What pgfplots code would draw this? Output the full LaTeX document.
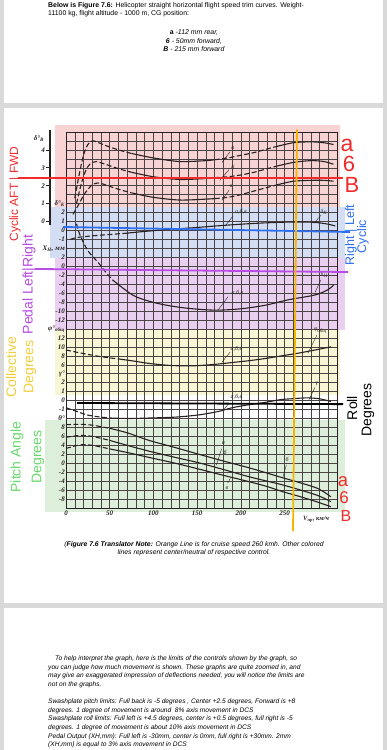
\documentclass[border=0pt]{standalone}
\usepackage{pgfplots}
\pgfplotsset{compat=1.18}
\usepackage{fontspec}
\setmainfont{Liberation Sans}
\newfontfamily\cf{Liberation Serif}
\definecolor{cred}{HTML}{F22A2A}
\definecolor{cblue}{HTML}{2E6FF0}
\definecolor{cpurp}{HTML}{B84DE6}
\definecolor{cyel}{HTML}{F2CF3A}
\definecolor{cgreen}{HTML}{66D96B}
\definecolor{corange}{HTML}{F5B400}
\definecolor{ink}{HTML}{2A2222}
\definecolor{gridc}{HTML}{4A4444}
\definecolor{bgpink}{HTML}{F7D3D3}
\definecolor{bgblue}{HTML}{D3DEF4}
\definecolor{bgpurp}{HTML}{E9D0F1}
\definecolor{bgyel}{HTML}{F8F6D4}
\definecolor{bggreen}{HTML}{DDEEDB}
\pgfplotsset{
  crv/.style={ink, line width=1.1pt, smooth, no markers},
  dsh/.style={dash pattern=on 5pt off 2.5pt},
  dB/.style={y filter/.expression={32+2*y}},
  dK/.style={y filter/.expression={31+y}},
  XH/.style={y filter/.expression={27+y/2}},
  phi/.style={y filter/.expression={(y+26)/2}},
  gam/.style={y filter/.expression={12+y}},
  th/.style={y filter/.expression={5+y/2}},
  band/.style={draw=none, on layer=axis background},
}
\tikzset{ann/.style={font=\cf\itshape\fontsize{6}{6}\selectfont, text=ink, inner sep=0.5pt},
  sc/.style={anchor=east, font=\cf\itshape\bfseries\fontsize{7}{7}\selectfont, text=ink, inner sep=0.5pt}}
\begin{document}
\begin{tikzpicture}[x=1pt,y=1pt]

% top text
\begin{scope}[font=\fontsize{6.9}{8}\selectfont]
\node[anchor=base west, inner sep=0] at (48,742.5) {\textbf{Below is Figure 7.6:} Helicopter straight horizontal flight speed trim curves. Weight-};
\node[anchor=base west, inner sep=0] at (48,734) {11100 kg, flight altitude - 1000 m, CG position:};
\node[anchor=base, inner sep=0] at (194,715) {\textbf{a} \textit{-112 mm rear,}};
\node[anchor=base, inner sep=0] at (194,706.5) {\textbf{\textit{6}} \textit{- 50mm forward,}};
\node[anchor=base, inner sep=0] at (194,698) {\textbf{\textit{B}} \textit{- 215 mm forward}};
\end{scope}

\begin{axis}[
  at={(66pt,242pt)}, anchor=south west,
  scale only axis, width=271pt, height=376pt,
  xmin=0, xmax=310, ymin=0, ymax=42,
  clip=false, set layers,
  axis line style={ink, line width=0.9pt},
  grid=major, major grid style={gridc, line width=0.45pt},
  xtick={0,10,...,310}, ytick={0,1,...,42},
  major tick length=0pt,
  xticklabels={0,,,,,50,,,,,100,,,,,150,,,,,200,,,,,250,,,,,,},
  yticklabels={,-8,-6,-4,-2,0,2,4,6,8,θ°,-1,0,1,2,γ°,6,8,10,12,{φ°\textsubscript{общ}},-12,-10,-8,-6,-4,-2,0,2,{X\textsubscript{H}, мм},-1,0,1,2,{δ°\textsubscript{K}},,,,,,,,},
  tick label style={font=\cf\itshape\bfseries\fontsize{7}{7}\selectfont, text=ink, inner sep=1pt},
  xticklabel style={yshift=-2pt},
]
% page background and white cards (bottom-most layer)
\addplot[band, fill=black!15] coordinates {(-75.6,-27.2) (367.3,-27.2) (367.3,56.9) (-75.6,56.9)} -- cycle;
\addplot[band, fill=white] coordinates {(-70.92,45.24) (362.62,45.24) (362.62,56.9) (-70.92,56.9)} -- cycle;
\addplot[band, fill=white] coordinates {(-70.92,-10.61) (362.62,-10.61) (362.62,44.68) (-70.92,44.68)} -- cycle;
\addplot[band, fill=white] coordinates {(-70.92,-27.2) (362.62,-27.2) (362.62,-11.17) (-70.92,-11.17)} -- cycle;
% colour bands behind the grid
\addplot[band, fill=bgpink] coordinates {(-12.6,33.6) (313,33.6) (313,42.8) (-12.6,42.8)} -- cycle;
\addplot[band, fill=bgblue] coordinates {(-18.3,27.9) (319,27.9) (319,33.6) (-18.3,33.6)} -- cycle;
\addplot[band, fill=bgpurp] coordinates {(-12.6,19.9) (319,19.9) (319,27.9) (-12.6,27.9)} -- cycle;
\addplot[band, fill=bgyel] coordinates {(-12.6,12.6) (313,12.6) (313,19.9) (-12.6,19.9)} -- cycle;
\addplot[band, fill=bggreen] coordinates {(-24,-0.45) (319,-0.45) (319,9.8) (-24,9.8)} -- cycle;

% delta_B (cyclic pitch) curves a, 6, B
\addplot[crv, dsh, dB] coordinates {(10,1.3) (15,2.6) (20,3.7) (25,4.3) (30,4.5) (35,4.45) (45,4.25) (60,4.0) (75,3.8)};
\addplot[crv, dB] coordinates {(75,3.8) (100,3.55) (130,3.35) (160,3.4) (170,3.45)};
\addplot[crv, dsh, dB] coordinates {(170,3.45) (185,3.55) (200,3.7) (215,3.85) (230,4.05) (240,4.18)};
\addplot[crv, dB] coordinates {(240,4.18) (260,4.4) (280,4.45) (295,4.4) (306,4.3)};

\addplot[crv, dsh, dB] coordinates {(12,1.0) (18,2.2) (24,3.0) (30,3.3) (35,3.35) (45,3.2) (60,2.95) (75,2.75)};
\addplot[crv, dB] coordinates {(75,2.75) (100,2.5) (130,2.35) (160,2.4) (170,2.45)};
\addplot[crv, dsh, dB] coordinates {(170,2.45) (185,2.5) (200,2.6) (215,2.75) (230,2.95) (240,3.08)};
\addplot[crv, dB] coordinates {(240,3.08) (260,3.3) (280,3.4) (295,3.35) (306,3.2)};

\addplot[crv, dsh, dB] coordinates {(8,0.4) (15,1.0) (22,1.6) (30,2.05) (37,2.15) (45,2.05) (60,1.8) (75,1.6)};
\addplot[crv, dB] coordinates {(75,1.6) (100,1.35) (130,1.2) (160,1.25) (170,1.28)};
\addplot[crv, dsh, dB] coordinates {(170,1.28) (185,1.35) (200,1.5) (215,1.7) (230,1.9) (240,2.03)};
\addplot[crv, dB] coordinates {(240,2.03) (260,2.25) (280,2.3) (295,2.3) (306,2.25)};

% delta_K (cyclic roll)
\addplot[crv, dsh, dK] coordinates {(5,-1.0) (12,-0.8) (30,-0.6) (50,-0.45) (70,-0.3)};
\addplot[crv, dK] coordinates {(70,-0.3) (85,-0.15) (115,0.1) (145,0.3) (171,0.5) (200,0.7) (228,0.85) (262,0.95) (285,0.9) (300,0.7) (308,0.5)};

% X_H pedal
\addplot[crv, dsh, XH] coordinates {(12,9.5) (16,7) (25,3.5) (37,0.8) (45,-1.2) (53,-3)};
\addplot[crv, XH] coordinates {(53,-3) (76,-6.4) (95,-7.8) (115,-8.7) (140,-9.4) (171,-9.8) (200,-9.5) (228,-8.7) (254,-7.5) (285,-6.4) (300,-5.2) (306,-4.2)};

% collective
\addplot[crv, dsh, phi] coordinates {(0,9.3) (20,8.5) (40,7.8) (60,7.3)};
\addplot[crv, phi] coordinates {(60,7.3) (75,6.9) (95,6.3) (115,5.9) (133,5.75) (150,5.8) (171,6.1) (190,6.5) (209,6.9) (228,7.4) (247,8.0) (266,8.6) (285,9.3) (303,10.0)};

% roll
\addplot[crv, dsh, gam] coordinates {(0,-0.8) (12,-1.2) (24,-1.6) (40,-1.85) (55,-1.97)};
\addplot[crv, gam] coordinates {(55,-1.97) (75,-2.0) (95,-1.95) (125,-1.85) (152,-1.6) (175,-1.2) (190,-0.8) (210,-0.45) (228,-0.2) (245,0.1) (258,0.2) (275,0.3) (290,0.2) (303,-0.1)};

% pitch a, 6, B
\addplot[crv, dsh, th] coordinates {(0,8.6) (15,8.7) (30,8.5) (50,7.8)};
\addplot[crv, th] coordinates {(50,7.8) (70,6.8) (95,5.1) (125,3.5) (152,2.0) (180,0.5) (209,-1.0) (230,-2.2) (247,-3.2) (265,-4.2) (285,-5.4) (295,-6.4) (303,-7.5)};
\addplot[crv, dsh, th] coordinates {(0,5.8) (16,6.2) (30,6.0) (50,5.1)};
\addplot[crv, th] coordinates {(50,5.1) (70,4.0) (95,2.7) (125,1.3) (152,0.1) (180,-1.4) (209,-3.0) (230,-4.0) (247,-4.8) (265,-5.8) (285,-7.0) (295,-7.8) (303,-8.6)};
\addplot[crv, dsh, th] coordinates {(0,3.3) (16,4.1) (30,4.0) (50,3.2)};
\addplot[crv, th] coordinates {(50,3.2) (70,2.4) (95,1.3) (125,0.0) (152,-1.3) (180,-2.7) (209,-4.1) (230,-5.2) (247,-6.3) (265,-7.3) (285,-8.5) (303,-9.7)};

% delta_B scale at left
\addplot[ink, line width=1.6pt] coordinates {(-18.3,31.6) (-18.3,42.2)};
\addplot[ink, line width=0.7pt] coordinates {(-18.3,40) (-22.5,40)};
\addplot[ink, line width=0.7pt] coordinates {(-18.3,38) (-22.5,38)};
\addplot[ink, line width=0.7pt] coordinates {(-18.3,36) (-22.5,36)};
\addplot[ink, line width=0.7pt] coordinates {(-18.3,34) (-22.5,34)};
\addplot[ink, line width=0.7pt] coordinates {(-18.3,32) (-22.5,32)};
\node[sc] at (axis cs:-23.5,40) {4};
\node[sc] at (axis cs:-23.5,38) {3};
\node[sc] at (axis cs:-23.5,36) {2};
\node[sc] at (axis cs:-23.5,34) {1};
\node[sc] at (axis cs:-23.5,32) {0};
\node[font=\cf\itshape\bfseries\fontsize{7}{7}\selectfont, text=ink] at (axis cs:-31,41.3) {δ°\textsubscript{B}};

% small curve annotations
\node[ann] at (axis cs:191,40.2) {а};
\addplot[ink, line width=0.4pt] coordinates {(178.5,38.6) (187.6,39.8)};
\node[ann] at (axis cs:191,38.1) {б};
\addplot[ink, line width=0.4pt] coordinates {(176,36.6) (186.5,37.8)};
\node[ann] at (axis cs:189,35.9) {в};
\addplot[ink, line width=0.4pt] coordinates {(178.5,34.4) (186.5,35.5)};
\node[ann] at (axis cs:200,33.1) {а,б,в};
\addplot[ink, line width=0.4pt] coordinates {(182,31.5) (191,32.6)};
\node[ann] at (axis cs:295,33.1) {δ\textsubscript{K}};
\addplot[ink, line width=0.4pt] coordinates {(283.7,31.8) (291.7,32.7)};
\node[ann] at (axis cs:196,24.0) {а,б,в};
\addplot[ink, line width=0.4pt] coordinates {(173.9,22.1) (185.3,23.6)};
\node[ann] at (axis cs:295,26.0) {X\textsubscript{H}};
\addplot[ink, line width=0.4pt] coordinates {(284.9,24.1) (291.7,25.5)};
\node[ann] at (axis cs:195,17.8) {а,б,в};
\addplot[ink, line width=0.4pt] coordinates {(178.5,16.3) (187.6,17.4)};
\node[ann] at (axis cs:291,19.8) {φ\textsubscript{общ}};
\addplot[ink, line width=0.4pt] coordinates {(276.8,17.3) (287,19.3)};
\node[ann] at (axis cs:195,12.4) {а,б,в};
\addplot[ink, line width=0.4pt] coordinates {(179.6,10.9) (186.5,11.7)};
\node[ann] at (axis cs:287,13.9) {γ};
\addplot[ink, line width=0.4pt] coordinates {(278,12.1) (284.9,13.5)};
\node[ann] at (axis cs:180,7.2) {а};
\node[ann] at (axis cs:182,6.2) {б};
\addplot[ink, line width=0.4pt] coordinates {(172,4.8) (178,6.6)};
\node[ann] at (axis cs:184,2.2) {в};
\addplot[ink, line width=0.4pt] coordinates {(188,3.3) (185,2.8)};
\node[ann] at (axis cs:253,5.4) {б};
\addplot[ink, line width=0.4pt] coordinates {(248,3.4) (252,4.8)};

% coloured reference lines
\addplot[cred, line width=1.8pt] coordinates {(-54.9,36.86) (316.9,36.86)};
\addplot[cblue, line width=1.8pt] coordinates {(-3.4,31.39) (324.9,30.83)};
\addplot[cpurp, line width=1.8pt] coordinates {(-35.5,26.7) (322.6,26.36)};
\addplot[black, line width=1.8pt] coordinates {(12.6,11.73) (316.9,11.6)};
\addplot[corange, line width=1.8pt] coordinates {(264.2,42.3) (259.7,-2.57)};
\end{axis}

% x axis name
\node[anchor=base west, font=\cf\itshape\bfseries\fontsize{6.5}{7}\selectfont, text=ink, inner sep=0] at (303,229) {V\textsubscript{пр}, км/ч};

% rotated coloured labels, left
\begin{scope}[every node/.style={inner sep=0}]
\node[rotate=90, text=cred, font=\fontsize{12}{12}\selectfont] at (15,556) {Cyclic AFT | FWD};
\node[rotate=90, text=cpurp, font=\fontsize{14}{14}\selectfont] at (29,465.5) {Pedal Left|Right};
\node[rotate=90, text=cyel, font=\fontsize{14}{14}\selectfont] at (11,383) {Collective};
\node[rotate=90, text=cyel, font=\fontsize{14}{14}\selectfont] at (30,383) {Degrees};
\node[rotate=90, text=cgreen, font=\fontsize{14}{14}\selectfont] at (17,293) {Pitch Angle};
\node[rotate=90, text=cgreen, font=\fontsize{14}{14}\selectfont] at (38,293) {Degrees};
% right
\node[rotate=90, text=cblue, font=\fontsize{12.5}{12.5}\selectfont] at (351,515) {Right | Left};
\node[rotate=90, text=cblue, font=\fontsize{12.5}{12.5}\selectfont] at (363,513.5) {Cyclic};
\node[rotate=90, text=black, font=\fontsize{14}{14}\selectfont] at (352,342) {Roll};
\node[rotate=90, text=black, font=\fontsize{14}{14}\selectfont] at (368,340) {Degrees};
% red a 6 B
\node[text=cred, font=\fontsize{23}{23}\selectfont] at (347,605) {a};
\node[text=cred, font=\fontsize{22}{22}\selectfont] at (349,586) {6};
\node[text=cred, font=\fontsize{22}{22}\selectfont] at (352,565) {B};
\node[text=cred, font=\fontsize{18.5}{18.5}\selectfont] at (343,268) {a};
\node[text=cred, font=\fontsize{17}{17}\selectfont] at (344,252) {6};
\node[text=cred, font=\fontsize{16}{16}\selectfont] at (346,234.5) {B};
\end{scope}

% caption
\begin{scope}[font=\fontsize{6.8}{8}\selectfont\itshape]
\node[anchor=base, inner sep=0] at (194,203.5) {(\textbf{Figure 7.6 Translator Note:} Orange Line is for cruise speed 260 kmh. Other colored};
\node[anchor=base, inner sep=0] at (194,195) {lines represent center/neutral of respective control.};
\end{scope}

% bottom paragraph
\begin{scope}[font=\fontsize{6.6}{8}\selectfont\itshape]
\node[anchor=base west, inner sep=0] at (55,89) {To help interpret the graph, here is the limits of the controls shown by the graph, so};
\node[anchor=base west, inner sep=0] at (48,80.5) {you can judge how much movement is shown. These graphs are quite zoomed in, and};
\node[anchor=base west, inner sep=0] at (48,72) {may give an exaggerated impression of deflections needed, you will notice the limits are};
\node[anchor=base west, inner sep=0] at (48,63.5) {not on the graphs.};
\node[anchor=base west, inner sep=0] at (48,46) {Swashplate pitch limits: Full back is -5 degrees , Center +2.5 degrees, Forward is +8};
\node[anchor=base west, inner sep=0] at (48,37.5) {degrees. 1 degree of movement is around\ \ 8\% axis movement in DCS};
\node[anchor=base west, inner sep=0] at (48,29) {Swashplate roll limits: Full left is +4.5 degrees, center is +0.5 degrees, full right is -5};
\node[anchor=base west, inner sep=0] at (48,20.5) {degrees. 1 degree of movement is about 10\% axis movement in DCS};
\node[anchor=base west, inner sep=0] at (48,12) {Pedal Output (XH,mm): Full left is -30mm, center is 0mm, full right is +30mm. 2mm};
\node[anchor=base west, inner sep=0] at (48,3.5) {(XH,mm) is equal to 3\% axis movement in DCS};
\end{scope}
\pgfresetboundingbox
\path[use as bounding box] (0,0) rectangle (387,750);
\end{tikzpicture}
\end{document}
